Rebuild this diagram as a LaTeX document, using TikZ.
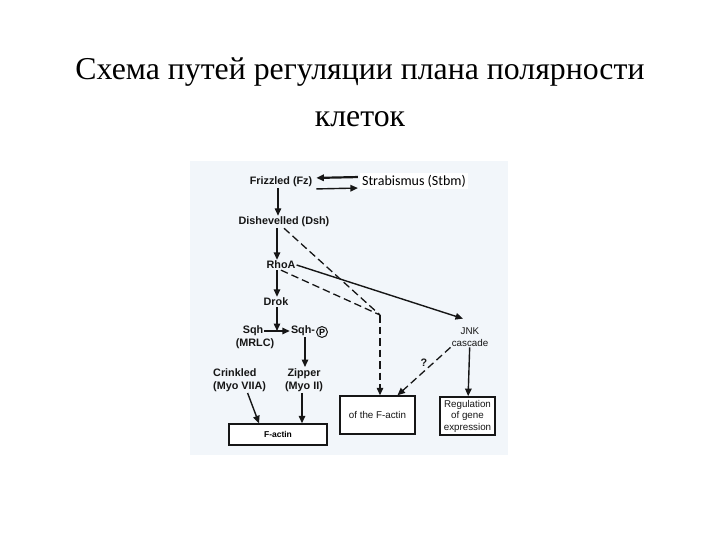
\documentclass[tikz,border=0pt]{standalone}
\usepackage{fontspec}
\setmainfont{Liberation Serif}
\newfontfamily\labfont{Liberation Sans}
\newfontfamily\stbmfont{Carlito}
\usetikzlibrary{arrows.meta,positioning}
\definecolor{panel}{HTML}{F2F6FA}
\definecolor{ink}{HTML}{161616}

\begin{document}
\begin{tikzpicture}[x=1pt,y=-1pt,
  title/.style={font=\fontsize{31.8}{36}\selectfont,anchor=base,inner sep=0pt},
  lbl/.style={font=\labfont\bfseries\fontsize{10.8}{13.5}\selectfont,text=ink,inner sep=1pt,align=center},
  plain/.style={font=\labfont\fontsize{9.8}{11.5}\selectfont,text=ink,inner sep=1pt,align=center},
  box/.style={draw=ink,line width=1.4pt,fill=white},
  tip/.style={-{Triangle[length=7.5pt,width=6.5pt]}},
  arrow/.style={tip,line width=1.4pt,draw=ink},
  dashline/.style={draw=ink,line width=1.3pt,dash pattern=on 7.5pt off 4pt}
]
  \useasboundingbox (0,0) rectangle (720,540);
  \fill[panel] (190,161) rectangle (508,455);

  \node[title] (head) at (360,80) {Схема путей регуляции плана полярности};
  \node[title] (head2) at (360,127) {клеток};

  \node[lbl] (fz) at (281,182) {Frizzled (Fz)};
  \node[fill=white,inner sep=2pt,font=\stbmfont\fontsize{14}{16}\selectfont] (stbm) at (414,181) {Strabismus (Stbm)};
  \node[lbl] (dsh) at (284,222) {Dishevelled (Dsh)};
  \node[lbl] (rhoa) at (281,265) {RhoA};
  \node[lbl] (drok) at (276,302) {Drok};
  \node[lbl] (sqh) at (253,331) {Sqh};
  \node[lbl] (mrlc) at (255,344) {(MRLC)};
  \node[lbl] (sqhp) at (303,331) {Sqh-};
  \node[circle,draw=ink,line width=1pt,inner sep=0.8pt,font=\labfont\bfseries\fontsize{9}{9}\selectfont] (phos) at (322,332) {P};
  \node[lbl,align=left,anchor=west] (crk) at (212,380) {Crinkled\\(Myo VIIA)};
  \node[lbl] (zip) at (304,380) {Zipper\\(Myo II)};
  \node[plain] (jnk) at (470,337) {JNK\\cascade};

  \node[box,minimum width=98pt,minimum height=21pt,font=\labfont\bfseries\fontsize{8.5}{9}\selectfont] (fact) at (278,434.5) {F-actin};
  \node[box,minimum width=75pt,minimum height=38pt,plain] (ofb) at (377.5,415) {of the F-actin};
  \node[box,line width=1.8pt,minimum width=55pt,minimum height=38pt,plain,inner sep=0.5pt] (reg) at (467.5,416) {Regulation\\of gene\\expression};

  \draw[arrow,line width=2.2pt,shorten <=2pt,shorten >=3pt] ([yshift=4pt]stbm.west) -- ([yshift=4pt]fz.east);
  \draw[arrow,shorten <=3pt,shorten >=2pt] ([yshift=-7pt]fz.east) -- ([yshift=-7pt]stbm.west);
  \draw[arrow] ([xshift=-3pt]fz.south) -- ([xshift=-6pt]dsh.north);
  \draw[arrow] ([xshift=-7pt]dsh.south) -- ([xshift=-4pt]rhoa.north);
  \draw[arrow] ([xshift=-4pt]rhoa.south) -- ([xshift=1pt]drok.north);
  \draw[arrow] (sqh) -- coordinate (sqhmid) (sqhp);
  \draw[arrow] ([xshift=1pt]drok.south) -- ([xshift=1pt]drok.south |- sqhmid);
  \draw[arrow] ([xshift=2pt]sqhp.south) -- ([xshift=1pt]zip.north);
  \draw[arrow] ([xshift=8pt]crk.south) -- ([xshift=-19pt]fact.north);
  \draw[arrow] ([xshift=-2pt]zip.south) -- ([xshift=24pt]fact.north);
  \draw[arrow] (rhoa.east) -- ([xshift=-7pt,yshift=8pt]jnk.north);
  \draw[arrow] (jnk) -- (reg);

  \coordinate (meet) at (380,315);
  \draw[dashline] (dsh.south) -- (meet);
  \draw[dashline] (rhoa.south) -- (meet);
  \draw[dashline,tip] (meet) -- (meet |- ofb.north);
  \draw[dashline,tip] (jnk.south west) -- node[lbl,above,yshift=3pt] {?} ([xshift=20pt]ofb.north);
\end{tikzpicture}
\end{document}
